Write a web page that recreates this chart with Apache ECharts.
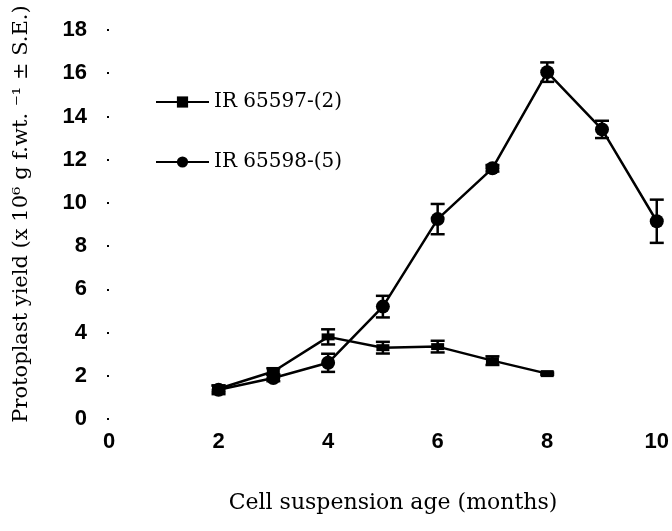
<!DOCTYPE html>
<html>
<head>
<meta charset="utf-8">
<script src="https://cdn.jsdelivr.net/npm/echarts@6/dist/echarts.min.js"></script>
<style>html,body{margin:0;padding:0;background:#fff;}#c{width:672px;height:531px;}</style>
</head>
<body>
<div id="c"></div>
<script>
var monthsA = [2, 3, 4, 5, 6, 7, 8];
var ir65597 = [1.4, 2.2, 3.8, 3.3, 3.35, 2.7, 2.1];
var ir65597Err = [0.15, 0.15, 0.35, 0.27, 0.27, 0.2, 0.05];
var monthsB = [2, 3, 4, 5, 6, 7, 8, 9, 10];
var ir65598 = [1.35, 1.9, 2.6, 5.2, 9.25, 11.6, 16.05, 13.4, 9.15];
var ir65598Err = [0.2, 0.15, 0.42, 0.5, 0.7, 0.15, 0.45, 0.4, 1.0];
var seriesNames = ['IR 65597-(2)', 'IR 65598-(5)'];
var xTitle = 'Cell suspension age (months)';
var yTitle = 'Protoplast yield (x 10\u2076 g f.wt. \u207B\u00B9 \u00B1 S.E.)';

var serif = '"DejaVu Serif", "Liberation Serif", serif';
var sans = '"Liberation Sans", Arial, sans-serif';

function pairs(xs, ys) { return xs.map(function (x, i) { return [x, ys[i]]; }); }
function errData(xs, ys, es) { return xs.map(function (x, i) { return [x, ys[i] - es[i], ys[i] + es[i]]; }); }

function errRender(params, api) {
  var x = api.value(0);
  var lo = api.coord([x, api.value(1)]);
  var hi = api.coord([x, api.value(2)]);
  var w = 7;
  var st = { stroke: '#000', lineWidth: 2.5 };
  return {
    type: 'group',
    children: [
      { type: 'line', shape: { x1: lo[0], y1: lo[1], x2: hi[0], y2: hi[1] }, style: st },
      { type: 'line', shape: { x1: lo[0] - w, y1: lo[1], x2: lo[0] + w, y2: lo[1] }, style: st },
      { type: 'line', shape: { x1: hi[0] - w, y1: hi[1], x2: hi[0] + w, y2: hi[1] }, style: st }
    ]
  };
}

var chart = echarts.init(document.getElementById('c'), null, { renderer: 'canvas' });
chart.setOption({
  backgroundColor: '#fff',
  animation: false,
  grid: { left: 109, right: 14, top: 30, bottom: 112, containLabel: false },
  legend: {
    orient: 'vertical',
    left: 150,
    top: 87,
    itemWidth: 53,
    itemHeight: 14,
    itemGap: 40,
    data: seriesNames,
    textStyle: { fontFamily: serif, fontSize: 20, color: '#000' }
  },
  graphic: [
    { type: 'text', x: 393, y: 503,
      style: { text: xTitle, fontFamily: serif, fontSize: 22, fill: '#000', align: 'center', verticalAlign: 'middle' } },
    { type: 'text', x: 22, y: 214, rotation: Math.PI / 2,
      style: { text: yTitle, fontFamily: serif, fontSize: 21, fill: '#000', align: 'center', verticalAlign: 'middle' } }
  ],
  xAxis: {
    type: 'value', min: 0, max: 10, interval: 2,
    axisLine: { show: false }, axisTick: { show: false }, splitLine: { show: false },
    axisLabel: { margin: 12, color: '#000', fontSize: 22, fontWeight: 'bold', fontFamily: sans }
  },
  yAxis: {
    type: 'value', min: 0, max: 18, interval: 2,
    axisLine: { show: false }, splitLine: { show: false },
    axisTick: { show: true, length: 2, lineStyle: { color: '#000', width: 2 } },
    axisLabel: { margin: 22, color: '#000', fontSize: 22, fontWeight: 'bold', fontFamily: sans }
  },
  series: [
    {
      name: seriesNames[0], type: 'line', data: pairs(monthsA, ir65597),
      symbol: 'rect', symbolSize: [13, 7], showSymbol: true,
      lineStyle: { color: '#000', width: 2.5 }, itemStyle: { color: '#000' }, z: 3
    },
    {
      name: seriesNames[1], type: 'line', data: pairs(monthsB, ir65598),
      symbol: 'circle', symbolSize: 14, showSymbol: true,
      lineStyle: { color: '#000', width: 2.5 }, itemStyle: { color: '#000' }, z: 3
    },
    { type: 'custom', renderItem: errRender, data: errData(monthsA, ir65597, ir65597Err), encode: { x: 0, y: [1, 2] }, z: 4, silent: true },
    { type: 'custom', renderItem: errRender, data: errData(monthsB, ir65598, ir65598Err), encode: { x: 0, y: [1, 2] }, z: 4, silent: true }
  ]
});
</script>
</body>
</html>
